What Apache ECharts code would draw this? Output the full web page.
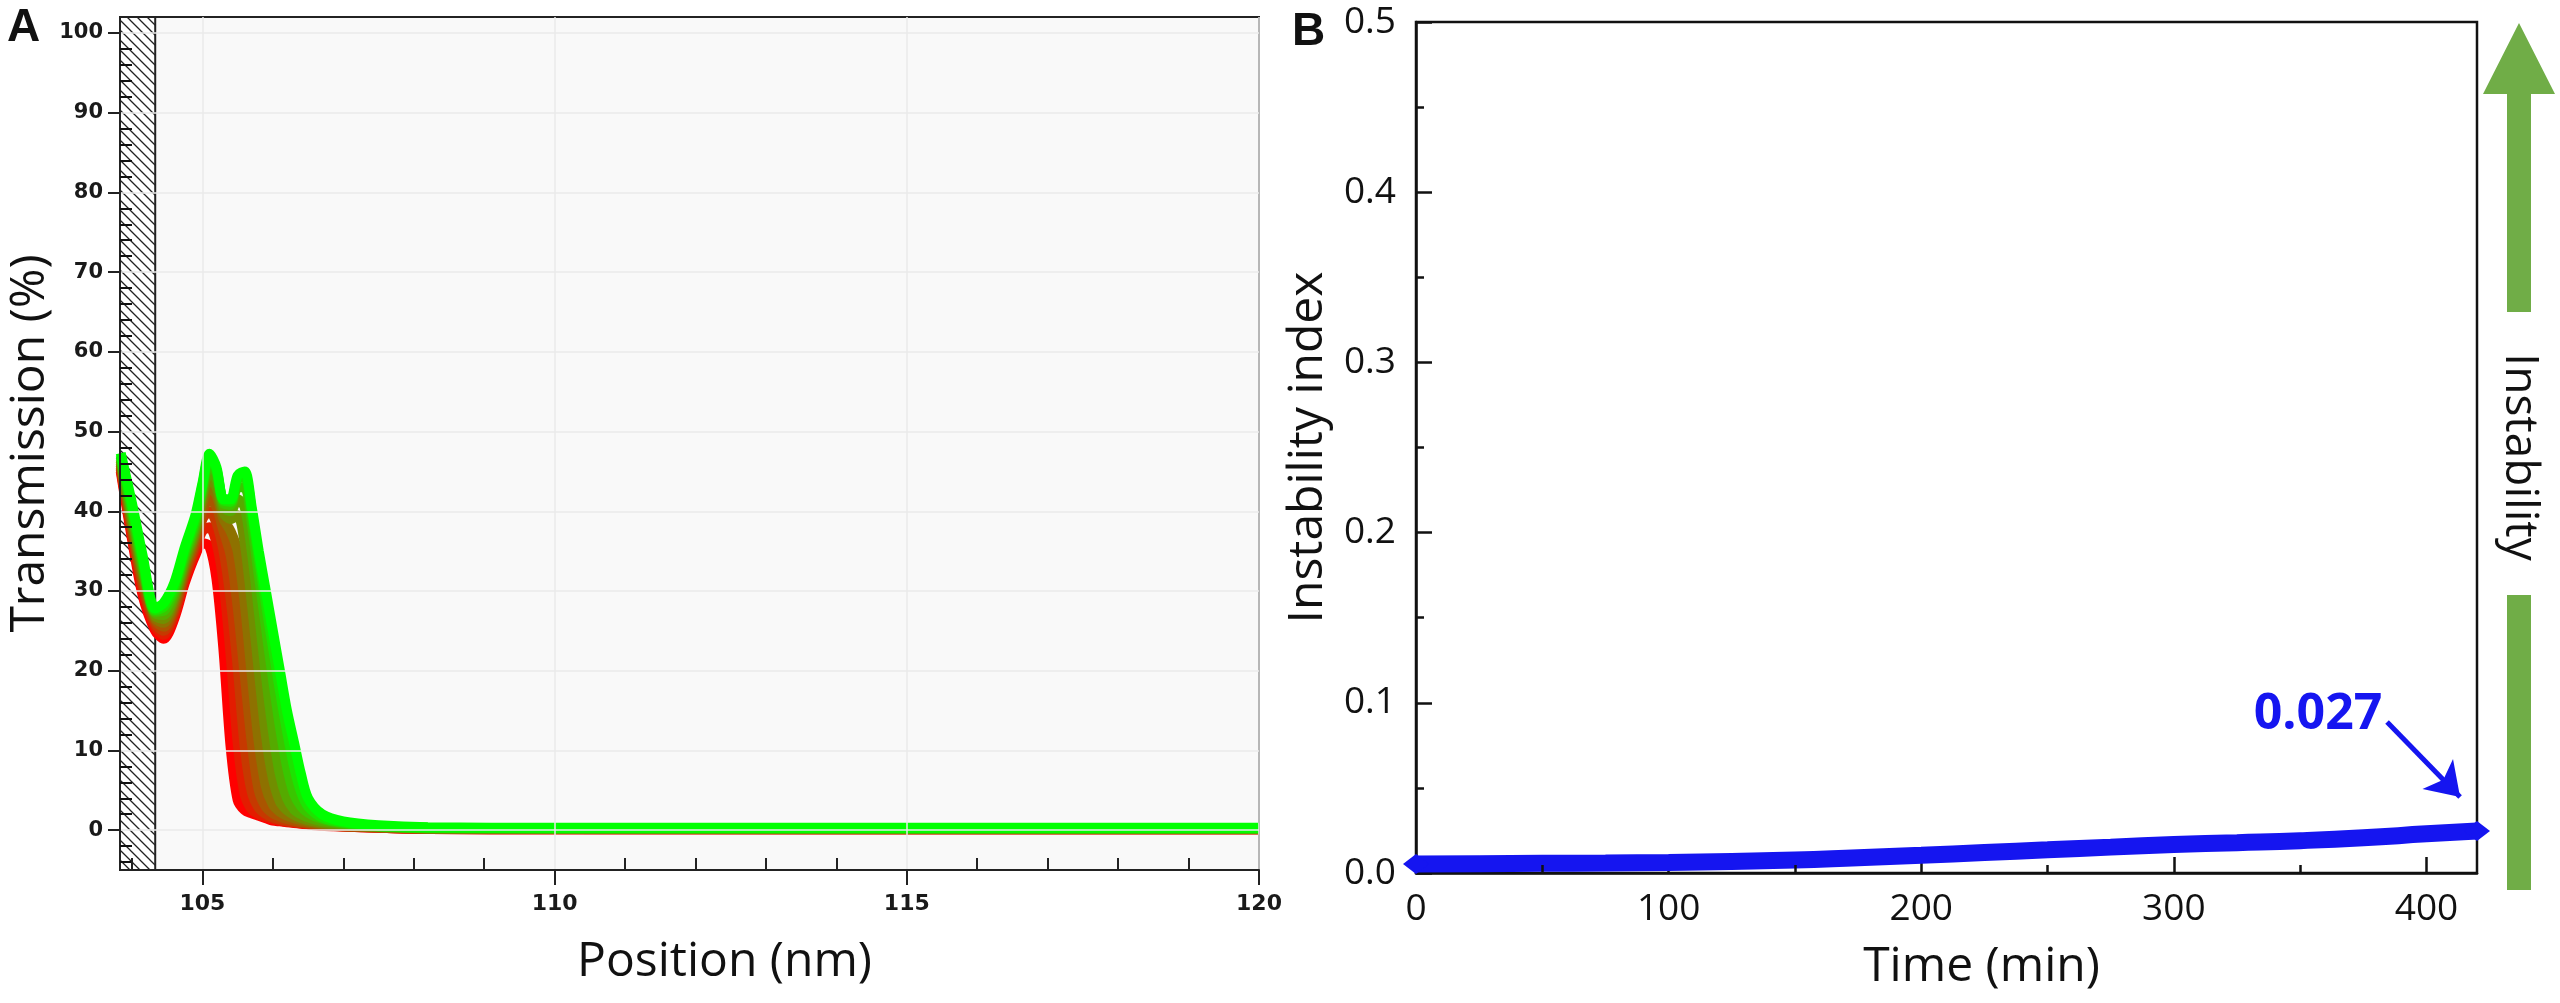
<!DOCTYPE html>
<html>
<head>
<meta charset="utf-8">
<script src="https://cdn.jsdelivr.net/npm/echarts@6/dist/echarts.min.js"></script>
<style>
  html, body { margin: 0; padding: 0; background: #fff; }
  #main { width: 2560px; height: 1003px; }
</style>
</head>
<body>
<div id="main"></div>
<script>
"use strict";

// ---- panel A: transmission profiles (first scan red ... last scan green) ----
var positionNm = [103.84, 104.0, 104.15, 104.33, 104.45, 104.6, 104.75, 104.9, 105.0, 105.1,
                  105.2, 105.3, 105.4, 105.5, 105.6, 105.7, 105.8, 105.9, 106.0, 106.1,
                  106.2, 106.3, 106.4, 106.5, 106.7, 107.0, 107.5, 108.2, 110, 120];

var scan0 = [45.0, 36.5, 29.5, 25.0, 24.0, 26.5, 31.0, 34.5, 36.0, 35.6, 31.5, 22.5, 10.5, 3.8, 2.5, 2.1, 1.8, 1.5, 1.2, 1.1, 1.0, 0.9, 0.8, 0.7, 0.55, 0.45, 0.3, 0.15, 0.1, 0.1];
var scan1 = [45.3, 37.0, 30.2, 25.5, 24.5, 27.0, 31.5, 35.2, 37.5, 38.0, 36.0, 31.0, 22.0, 11.0, 4.5, 2.6, 2.0, 1.7, 1.4, 1.2, 1.05, 0.95, 0.85, 0.75, 0.6, 0.45, 0.3, 0.15, 0.1, 0.1];
var scan2 = [45.5, 37.5, 30.8, 25.9, 25.0, 27.5, 32.0, 35.8, 39.0, 40.0, 38.5, 35.0, 29.0, 20.5, 10.5, 4.8, 2.8, 2.0, 1.6, 1.35, 1.15, 1.0, 0.9, 0.8, 0.6, 0.5, 0.3, 0.15, 0.1, 0.1];
var scan3 = [45.8, 38.0, 31.4, 26.3, 25.5, 28.0, 32.5, 36.4, 40.0, 41.5, 40.5, 37.5, 34.5, 28.0, 19.5, 11.0, 5.0, 2.9, 2.1, 1.7, 1.4, 1.2, 1.0, 0.9, 0.7, 0.5, 0.35, 0.2, 0.15, 0.1];
var scan4 = [46.0, 38.5, 32.0, 26.6, 26.0, 28.5, 33.0, 37.0, 41.0, 43.0, 42.0, 39.0, 37.5, 35.0, 28.5, 19.5, 11.0, 5.5, 3.2, 2.3, 1.8, 1.5, 1.25, 1.05, 0.8, 0.6, 0.4, 0.2, 0.15, 0.15];
var scan5 = [46.3, 39.0, 32.5, 26.9, 26.5, 29.0, 33.5, 37.5, 41.8, 44.0, 43.0, 39.8, 39.0, 39.5, 36.0, 28.5, 20.0, 12.0, 6.5, 3.6, 2.5, 1.9, 1.5, 1.25, 0.9, 0.65, 0.4, 0.25, 0.2, 0.15];
var scan6 = [46.5, 39.5, 33.0, 27.2, 27.0, 29.5, 34.0, 38.0, 42.3, 45.0, 44.0, 40.5, 40.0, 41.5, 40.5, 35.0, 27.5, 19.5, 12.5, 7.0, 4.0, 2.6, 2.0, 1.6, 1.1, 0.75, 0.45, 0.25, 0.2, 0.2];
var scan7 = [46.8, 40.0, 33.5, 27.4, 27.5, 30.0, 34.5, 38.5, 42.8, 46.0, 44.8, 41.0, 40.8, 43.0, 43.0, 38.5, 32.0, 25.5, 19.0, 13.0, 8.0, 4.6, 3.0, 2.2, 1.4, 0.85, 0.5, 0.3, 0.25, 0.2];
var scan8 = [47.0, 40.5, 34.0, 27.6, 28.0, 30.5, 35.0, 39.0, 43.2, 46.8, 45.2, 41.3, 41.2, 44.0, 44.3, 40.0, 34.0, 28.5, 23.0, 17.5, 12.5, 8.0, 4.8, 3.0, 1.6, 0.95, 0.5, 0.3, 0.25, 0.25];
var scan9 = [47.3, 41.0, 34.5, 27.8, 28.5, 31.0, 35.5, 39.5, 43.5, 47.2, 45.5, 41.5, 41.5, 44.5, 45.0, 40.5, 35.0, 30.0, 25.0, 20.0, 15.0, 11.0, 7.0, 4.0, 2.0, 1.1, 0.6, 0.35, 0.3, 0.3];

var scans = [scan0, scan1, scan2, scan3, scan4, scan5, scan6, scan7, scan8, scan9];

var xTicksA = [105, 110, 115, 120];
var yTicksA = [0, 10, 20, 30, 40, 50, 60, 70, 80, 90, 100];

// ---- panel B: instability index over time ----
var timeMin = [0, 25, 50, 75, 100, 125, 150, 175, 200, 225, 250, 275, 300, 325, 350, 375, 400, 420];
var instability = [0.0053, 0.0055, 0.0057, 0.0059, 0.0062, 0.0068, 0.0076, 0.0090, 0.0104, 0.0120,
                   0.0136, 0.0152, 0.0167, 0.0178, 0.0190, 0.0207, 0.0230, 0.0247];

var xTicksB = [0, 100, 200, 300, 400];
var xMinorB = [50, 150, 250, 350];
var yMinorB = [0.05, 0.15, 0.25, 0.35, 0.45];


// minor tick positions for panel A (every 1 nm / every 2 %)
var xMinorA = [];
for (var v = 104; v < 120; v++) { if (v % 5 !== 0) xMinorA.push(v); }
var yMinorA = [];
for (var w = -4; w < 100; w += 2) { if (w % 10 !== 0) yMinorA.push(w); }

// hatch pattern for the meniscus region
var hatch = document.createElement('canvas');
hatch.width = 10; hatch.height = 10;
var hc = hatch.getContext('2d');
hc.fillStyle = '#ffffff';
hc.fillRect(0, 0, 10, 10);
hc.strokeStyle = '#222';
hc.lineWidth = 1.3;
hc.beginPath();
hc.moveTo(-2, -2); hc.lineTo(12, 12);
hc.moveTo(-2, 8); hc.lineTo(2, 12);
hc.moveTo(8, -2); hc.lineTo(12, 2);
hc.stroke();

function mix(k, n) {
    var t = k / (n - 1);
    var r = Math.round(255 * (1 - t)), g = Math.round(255 * t);
    return 'rgb(' + r + ',' + g + ',0)';
}

var fontA = { fontFamily: 'DejaVu Sans', fontWeight: 'bold', color: '#1a1a1a' };
var fontB = { fontFamily: 'Open Sans', color: '#111', fontSize: 37 };
var titleFont = { fontFamily: 'Open Sans', fontSize: 48, color: '#111' };

var series = [];

// hatched block, under the curves
series.push({
    type: 'line',
    xAxisIndex: 0, yAxisIndex: 0,
    data: [],
    z: 1,
    silent: true,
    markArea: {
        silent: true,
        itemStyle: {
            color: { image: hatch, repeat: 'repeat' },
            borderColor: '#222',
            borderWidth: 2
        },
        data: [[{ xAxis: 103.83, yAxis: -5 }, { xAxis: 104.33, yAxis: 102 }]]
    }
});

// red (first scan) at the bottom, green (last scan) on top
for (var k = 0; k < scans.length; k++) {
    var pts = [];
    for (var i = 0; i < positionNm.length; i++) pts.push([positionNm[i], scans[k][i]]);
    series.push({
        name: 'scan ' + (k + 1),
        type: 'line',
        xAxisIndex: 0, yAxisIndex: 0,
        data: pts,
        z: 2,
        smooth: 0.3,
        showSymbol: false,
        lineStyle: { color: mix(k, scans.length), width: 10 },
        silent: true
    });
}

var bPts = [];
for (var j = 0; j < timeMin.length; j++) bPts.push([timeMin[j], instability[j]]);

series.push({
    name: 'Instability index',
    type: 'line',
    xAxisIndex: 2, yAxisIndex: 2,
    data: bPts,
    smooth: true,
    clip: false,
    symbol: 'diamond',
    symbolSize: function (val, params) {
        return (params.dataIndex === 0 || params.dataIndex === timeMin.length - 1) ? [26, 20] : 0;
    },
    itemStyle: { color: '#1515f0' },
    lineStyle: { color: '#1515f0', width: 17 },
    z: 3,
    markLine: {
        silent: true,
        symbol: ['none', 'arrow'],
        symbolSize: 32,
        lineStyle: { color: '#1515f0', width: 5, type: 'solid' },
        label: { show: false },
        data: [[{ coord: [384.4, 0.0887] }, { coord: [413.3, 0.0447] }]]
    }
});

var chart = echarts.init(document.getElementById('main'));

chart.setOption({
    animation: false,
    backgroundColor: '#ffffff',
    grid: [{
        left: 120, top: 17, width: 1139, height: 853,
        show: true, backgroundColor: '#f9f9f9', borderColor: '#222', borderWidth: 2
    }, {
        left: 1416, top: 22, width: 1061, height: 851,
        show: true, backgroundColor: '#ffffff', borderColor: '#111', borderWidth: 2.5
    }],
    xAxis: [{
        gridIndex: 0, type: 'value', position: 'bottom', min: 103.83, max: 120, splitNumber: 3, z: 3,
        name: 'Position (nm)', nameLocation: 'middle', nameGap: 68,
        nameTextStyle: Object.assign({ padding: [0, 0, 0, 70] }, titleFont),
        axisLine: { onZero: false, lineStyle: { color: '#222', width: 2 } },
        axisTick: { show: true, inside: false, length: 15, customValues: xTicksA, lineStyle: { color: '#222', width: 2 } },
        axisLabel: Object.assign({ fontSize: 22, margin: 23, customValues: xTicksA }, fontA),
        splitLine: { show: true, lineStyle: { color: '#eaeaea', width: 1.5 } }
    }, {
        gridIndex: 0, type: 'value', position: 'bottom', min: 103.83, max: 120, z: 4,
        axisLine: { show: false, onZero: false },
        axisTick: { show: true, inside: true, length: 12, customValues: xMinorA, lineStyle: { color: '#222', width: 2 } },
        axisLabel: { show: false },
        splitLine: { show: false }
    }, {
        gridIndex: 1, type: 'value', position: 'bottom', min: 0, max: 420, z: 3,
        name: 'Time (min)', nameLocation: 'middle', nameGap: 70,
        nameTextStyle: Object.assign({ padding: [0, 0, 0, 70] }, titleFont),
        axisLine: { onZero: false, lineStyle: { color: '#111', width: 2.5 } },
        axisTick: { show: true, inside: true, length: 16, customValues: xTicksB, lineStyle: { color: '#111', width: 2.5 } },
        axisLabel: Object.assign({ margin: 18, customValues: xTicksB }, fontB),
        splitLine: { show: false }
    }, {
        gridIndex: 1, type: 'value', position: 'bottom', min: 0, max: 420, z: 4,
        axisLine: { show: false, onZero: false },
        axisTick: { show: true, inside: true, length: 8, customValues: xMinorB, lineStyle: { color: '#111', width: 2.5 } },
        axisLabel: { show: false },
        splitLine: { show: false }
    }],
    yAxis: [{
        gridIndex: 0, type: 'value', position: 'left', min: -5, max: 102, splitNumber: 10, z: 3,
        name: 'Transmission (%)', nameLocation: 'middle', nameGap: 66,
        nameTextStyle: titleFont,
        axisLine: { onZero: false, lineStyle: { color: '#222', width: 2 } },
        axisTick: { show: true, inside: false, length: 12, customValues: yTicksA, lineStyle: { color: '#222', width: 2 } },
        axisLabel: Object.assign({ fontSize: 21, margin: 17, customValues: yTicksA }, fontA),
        splitLine: { show: true, lineStyle: { color: '#eaeaea', width: 1.5 } }
    }, {
        gridIndex: 0, type: 'value', position: 'left', min: -5, max: 102, z: 4,
        axisLine: { show: false, onZero: false },
        axisTick: { show: true, inside: true, length: 12, customValues: yMinorA, lineStyle: { color: '#111', width: 2 } },
        axisLabel: { show: false },
        splitLine: { show: false }
    }, {
        gridIndex: 1, type: 'value', position: 'left', min: 0, max: 0.5, interval: 0.1, z: 3,
        name: 'Instability index', nameLocation: 'middle', nameGap: 84,
        nameTextStyle: titleFont,
        axisLine: { onZero: false, lineStyle: { color: '#111', width: 2.5 } },
        axisTick: { show: true, inside: true, length: 16, lineStyle: { color: '#111', width: 2.5 } },
        axisLabel: Object.assign({ margin: 20, formatter: function (v) { return v.toFixed(1); } }, fontB),
        splitLine: { show: false }
    }, {
        gridIndex: 1, type: 'value', position: 'left', min: 0, max: 0.5, z: 4,
        axisLine: { show: false, onZero: false },
        axisTick: { show: true, inside: true, length: 8, customValues: yMinorB, lineStyle: { color: '#111', width: 2.5 } },
        axisLabel: { show: false },
        splitLine: { show: false }
    }],
    graphic: [
        { type: 'text', left: 7, top: 5, style: { text: 'A', font: 'bold 46px "Liberation Sans", Arial', fill: '#111' } },
        { type: 'text', left: 1292, top: 9, style: { text: 'B', font: 'bold 46px "Liberation Sans", Arial', fill: '#111' } },
        { type: 'text', x: 2318, y: 715, style: { text: '0.027', font: 'bold 50px "Open Sans"', fill: '#1515f0', align: 'center', verticalAlign: 'middle' } },
        {
            type: 'polygon',
            shape: { points: [[2519, 23], [2555, 94], [2531, 94], [2531, 312], [2507, 312], [2507, 94], [2483, 94]] },
            style: { fill: '#70ad47' }
        },
        { type: 'rect', shape: { x: 2507, y: 595, width: 24, height: 295 }, style: { fill: '#70ad47' } },
        {
            type: 'text', x: 2519, y: 457, rotation: -Math.PI / 2,
            style: { text: 'Instability', font: '46px "Open Sans"', fill: '#111', align: 'center', verticalAlign: 'middle' }
        }
    ],
    series: series
});
</script>
</body>
</html>
